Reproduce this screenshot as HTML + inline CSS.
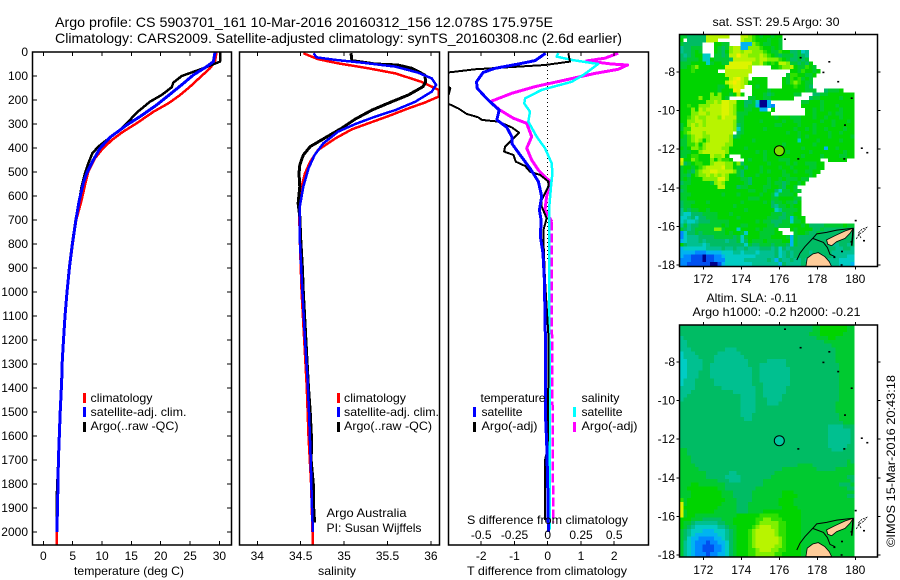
<!DOCTYPE html>
<html>
<head>
<meta charset="utf-8">
<title>Argo profile chart</title>
<style>
html,body{margin:0;padding:0;background:#fff;}
svg{display:block;}
text{font-family:"Liberation Sans",sans-serif;font-size:12px;fill:#000;}
.frame{fill:none;stroke:#000;stroke-width:1.5;}
</style>
</head>
<body>
<svg id="chart" xmlns="http://www.w3.org/2000/svg" width="900" height="580" viewBox="0 0 900 580">
<defs>
<clipPath id="clip-temp"><rect x="32.5" y="52" width="199" height="493"/></clipPath>
<clipPath id="clip-sal"><rect x="239.5" y="52" width="200" height="493"/></clipPath>
<clipPath id="clip-diff"><rect x="448.5" y="52" width="200" height="493"/></clipPath>
<clipPath id="clip-map1"><rect x="679.5" y="34.5" width="198" height="232"/></clipPath>
<clipPath id="clip-map2"><rect x="679.5" y="325" width="198" height="232"/></clipPath>
</defs>
<text x="55" y="27" font-size="14" style="font-size:14px" textLength="498" lengthAdjust="spacingAndGlyphs">Argo profile: CS 5903701_161 10-Mar-2016 20160312_156 12.078S 175.975E</text>
<text x="55" y="43" style="font-size:14px" textLength="567" lengthAdjust="spacingAndGlyphs">Climatology: CARS2009. Satellite-adjusted climatology: synTS_20160308.nc (2.6d earlier)</text>

<g id="map1-cells" clip-path="url(#clip-map1)" shape-rendering="crispEdges"></g>
<g id="map2-cells" clip-path="url(#clip-map2)" shape-rendering="crispEdges"></g>
<g id="map1-coast" clip-path="url(#clip-map1)"></g>
<g id="map2-coast" clip-path="url(#clip-map2)"></g>

<g id="temp-lines" clip-path="url(#clip-temp)" shape-rendering="crispEdges"></g>
<g id="sal-lines" clip-path="url(#clip-sal)" shape-rendering="crispEdges"></g>
<g id="diff-lines" clip-path="url(#clip-diff)" shape-rendering="crispEdges"></g>

<rect class="frame" x="32.5" y="52" width="199" height="493"/>
<rect class="frame" x="239.5" y="52" width="200" height="493"/>
<rect class="frame" x="448.5" y="52" width="200" height="493"/>
<rect class="frame" x="679.5" y="34.5" width="198" height="232"/>
<rect class="frame" x="679.5" y="325" width="198" height="232"/>

<g id="axes" shape-rendering="crispEdges"></g>

<text x="74" y="575" textLength="110" lengthAdjust="spacingAndGlyphs">temperature (deg C)</text>
<text x="318" y="575" textLength="38" lengthAdjust="spacingAndGlyphs">salinity</text>
<text x="467" y="575" textLength="160" lengthAdjust="spacingAndGlyphs">T difference from climatology</text>
<text x="467" y="524" textLength="161" lengthAdjust="spacingAndGlyphs">S difference from climatology</text>

<g shape-rendering="crispEdges">
<rect x="83" y="393" width="3" height="10" fill="#ff0000"/>
<rect x="83" y="407" width="3" height="10" fill="#0000ff"/>
<rect x="83" y="422" width="3" height="10" fill="#000"/>
</g>
<text x="90.5" y="402" textLength="62" lengthAdjust="spacingAndGlyphs">climatology</text>
<text x="90.5" y="416" textLength="96" lengthAdjust="spacingAndGlyphs">satellite-adj. clim.</text>
<text x="90.5" y="430" textLength="88" lengthAdjust="spacingAndGlyphs">Argo(..raw -QC)</text>

<g shape-rendering="crispEdges">
<rect x="337" y="393" width="3" height="10" fill="#ff0000"/>
<rect x="337" y="407" width="3" height="10" fill="#0000ff"/>
<rect x="337" y="422" width="3" height="10" fill="#000"/>
</g>
<text x="344" y="402" textLength="62" lengthAdjust="spacingAndGlyphs">climatology</text>
<text x="344" y="416" textLength="95" lengthAdjust="spacingAndGlyphs">satellite-adj. clim.</text>
<text x="344" y="430" textLength="88" lengthAdjust="spacingAndGlyphs">Argo(..raw -QC)</text>
<text x="326.5" y="517" textLength="80" lengthAdjust="spacingAndGlyphs">Argo Australia</text>
<text x="326.5" y="532" textLength="95" lengthAdjust="spacingAndGlyphs">PI: Susan Wijffels</text>

<g shape-rendering="crispEdges">
<rect x="473" y="407" width="3" height="10" fill="#0000ff"/>
<rect x="473" y="422" width="3" height="10" fill="#000"/>
<rect x="573" y="407" width="3" height="10" fill="#00ffff"/>
<rect x="573" y="422" width="3" height="10" fill="#ff00ff"/>
</g>
<text x="480.5" y="402" textLength="65" lengthAdjust="spacingAndGlyphs">temperature</text>
<text x="481.5" y="416" textLength="41" lengthAdjust="spacingAndGlyphs">satellite</text>
<text x="481.5" y="430" textLength="56" lengthAdjust="spacingAndGlyphs">Argo(-adj)</text>
<text x="581.5" y="402" textLength="38" lengthAdjust="spacingAndGlyphs">salinity</text>
<text x="581.5" y="416" textLength="41" lengthAdjust="spacingAndGlyphs">satellite</text>
<text x="581.5" y="430" textLength="56" lengthAdjust="spacingAndGlyphs">Argo(-adj)</text>

<text x="712.5" y="26" textLength="127" lengthAdjust="spacingAndGlyphs">sat. SST: 29.5 Argo: 30</text>
<text x="706.5" y="302" textLength="91" lengthAdjust="spacingAndGlyphs">Altim. SLA: -0.11</text>
<text x="692.5" y="316" textLength="168" lengthAdjust="spacingAndGlyphs">Argo h1000: -0.2 h2000: -0.21</text>
<text transform="translate(895,547) rotate(-90)" x="0" y="0" textLength="172" lengthAdjust="spacingAndGlyphs">©IMOS 15-Mar-2016 20:43:18</text>
</svg>

<script>
// ---- Axis tick labels ----
const depthTicks=[0,100,200,300,400,500,600,700,800,900,1000,1100,1200,1300,1400,1500,1600,1700,1800,1900,2000];
const tempTicks=[0,5,10,15,20,25,30];
const salTicks=[34,34.5,35,35.5,36];
const tDiffTicks=[-2,-1,0,1,2];
const sDiffTicks=[-0.5,-0.25,0,0.25,0.5];
const lonTicks=[172,174,176,178,180];
const latTicks=[-8,-10,-12,-14,-16,-18];

// ---- Temperature panel ----
const tempClimDepth=[1,40,68,106,144,179,214,249,297,332,367,408,443,499,554,617,700,800,900,1000,1100,1200,1300,1370,1500,1700,1900,2000,2054];
const tempClimValues=[29.5,29.25,28.4,26.7,25,23.3,21.3,18.75,15.9,13.6,11.65,9.95,8.8,7.67,7.1,6.53,5.6,5.0,4.48,4.06,3.72,3.46,3.22,3.13,2.85,2.56,2.39,2.28,2.26];
const tempSatDepth=[1,40,61,96,131,165,221,269,304,356,401,450,505,547,617,700,800,900,1000,1100,1200,1300,1370,1500,1700,1900,2000];
const tempSatValues=[29.25,28.97,27.83,25.56,23.86,22.15,19.3,16.47,14.2,11.36,9.66,8.52,7.39,6.82,6.14,5.55,4.95,4.45,4.03,3.7,3.44,3.2,3.13,2.88,2.58,2.42,2.3];
const tempArgoDepth=[1,40,68,100,128,147,179,207,253,283,325,356,394,422,464,505,561,617,700,800,900,1000,1100,1200,1300,1400,1500,1700,1850,1960];
const tempArgoValues=[30.1,30.1,27.26,23.57,22.15,21.87,20.16,18.18,15.9,14.77,13.07,11.36,9.38,8.35,7.67,7.1,6.53,6.14,5.5,4.9,4.4,4.0,3.68,3.42,3.2,3.03,2.85,2.55,2.3,2.3];

// ---- Salinity panel ----
const salClimDepth=[5,30,47,68,89,124,158,186,211,235,267,297,322,360,408,457,506,561,631,780,1000,1200,1400,1600,1800,2054];
const salClimValues=[34.53,34.70,34.93,35.28,35.59,35.89,36.09,36.09,35.93,35.74,35.51,35.28,35.09,34.9,34.70,34.61,34.55,34.51,34.48,34.49,34.51,34.54,34.57,34.59,34.62,34.64];
const salSatDepth=[5,22,33,44,61,86,110,137,165,207,242,269,300,332,381,429,485,561,644,780,1000,1200,1367,1500,1700,1900,2000];
const salSatValues=[34.65,34.68,34.9,35.2,35.59,35.85,36.01,36.06,36.01,35.82,35.59,35.36,35.13,34.93,34.76,34.66,34.59,34.53,34.49,34.49,34.52,34.55,34.58,34.596,34.615,34.63,34.64];
const salArgoDepth=[5,36,50,54,68,96,124,144,179,210,242,279,318,362,394,429,471,506,561,631,686,780,900,1000,1200,1400,1500,1620,1700,1800,1900,1960];
const salArgoValues=[35.08,35.09,35.36,35.62,35.78,35.93,35.94,35.91,35.74,35.53,35.32,35.13,34.97,34.76,34.61,34.53,34.49,34.48,34.49,34.47,34.49,34.5,34.52,34.53,34.56,34.59,34.61,34.625,34.62,34.645,34.65,34.66];

// ---- Difference panel ----
const tSatDepth=[5,36,50,68,85,124,151,186,214,242,283,314,353,381,429,485,540,603,658,700,769,839,950,1200,1533,1630,1800,2000];
const tSatValues=[-0.06,-0.38,-0.88,-1.58,-1.94,-2.14,-2.12,-1.89,-1.68,-1.46,-1.53,-1.23,-1.08,-1.08,-0.83,-0.53,-0.28,-0.18,-0.25,-0.2,-0.22,-0.14,-0.1,-0.07,-0.06,-0.03,0,0.02];
const tArgoDepth=[5,40,54,72,85,110,135,150,175,195,215,235,258,272,283,290,314,336,360,394,415,429,457,475,499,512,540,561,617,644,693,742,780,950,1200,1650,1700,1950];
const tArgoValues=[0.62,0.67,-0.08,-2.19,-2.97,-3.3,-3.1,-2.93,-2.97,-3.2,-3,-2.69,-2.44,-2.09,-1.98,-1.49,-1.08,-0.86,-1.03,-1.28,-1.31,-1.03,-0.96,-0.68,-0.53,-0.23,0.02,0.02,-0.18,-0.18,-0.03,-0.13,-0.13,-0.08,0.03,0,-0.08,-0.08];
const sSatDepth=[5,19,33,50,96,124,158,193,214,249,290,353,401,464,506,561,658,780,1000,1400,1990];
const sSatValues=[0.08,0.068,0.18,0.38,0.268,0.18,-0.045,-0.17,-0.176,-0.133,-0.146,-0.083,-0.02,0.03,0.035,0.025,0.01,0.01,0.012,0.015,0.017];
const sArgoDepth=[5,26,37,50,54,72,89,120,144,172,207,242,276,297,353,401,450,492,540,603,658,706];
const sArgoValues=[0.53,0.43,0.293,0.48,0.60,0.53,0.356,0.105,-0.095,-0.27,-0.434,-0.359,-0.259,-0.158,-0.12,-0.158,-0.12,-0.07,0.017,-0.008,-0.02,0.03];
const sArgoDeepDepth=[706,1000,1400,1800,1960];
const sArgoDeepValues=[0.03,0.03,0.035,0.04,0.04];

// ---- Map heatmaps: each character is one 0.2 degree cell, '.' = no data ----
const mapColours={n:"#00008c",B:"#0050f0",b:"#0088ff",c:"#00b4f0",d:"#00ccc4",e:"#00c090",f:"#00bc64",g:"#00ca30",h:"#00d400",i:"#30e000",j:"#80f000",k:"#b8f400",l:"#dcf400",m:"#f8ec00"};
const sstRows=[
"ggfffffkkkkkk...kkjihghhghh",
"h.fffffkkk......kjjihhhghhg",
"gfffff...hhgg...cccjihgghhg",
"effggg...hgfgjkkccjjjihhghg",
"effghg...hgfhjkkjkkjjjihggihhffgde",
"fefghhdd.ggfgkkmkkjjjkjihgfgggfgfe",
"ffggghddhggggfkkkkkkjkkjjjihgffgfg",
"ggghhhhdghhgglllllljjkihihkkjggfgfh",
"gghijhhhhhhhllllllk.....hhijjkhggihg",
"hhhihhhhhh..kkkkkkk..........hhgihhgh",
"hhhhhhhhhhhhkkkkkk..........giihhggh",
"hhhhhhhhhhhhhklmkj.hhhh....hgihighg",
"hhhhhhhhhhhhklmlkjhhhhh....hgijihgg",
"hhhhhhhhhhgghkllk..hghh....hhhihhgf",
"hhhhhhhhhhghhhml...hhhhghhhhhhhhhggg..fgggh",
"hhhhhhhhjhjhhghkh..hhhgfghhhhhgg...ffgghhhhhhhhhhh",
"hhhhhjhhjjjhg.....gghhgghhhhhh....fgghhhhhghhhgh",
"hhhhhhhjjkjllkkhhffgdnnc........gghhhghhhhhhhh",
"hhihhjjjkkkllkjhhfggcnncb.......hhhhhghhhghhhh",
"hhhjhkjkkkkllkjhhgghhcc.h........hhghghhhhghhhh",
"hhhjjkkjkkkllkjggghhhhhh.........hhghhhghgghhhh",
"hhijkjjkkkjlkkkgghhhhhhhhghhhggghhhghhghhhghhh",
"hhjjkkjkkkkkkkjgghhhhghhhhhghhgghhhhhghhghhhgh",
"ghjkjkjkkkkkkkjfghhhhhhhhgghhhhghhhghhhhghhhhh",
"giikkkkkkkkkkkjdghhhhhghhhhhhhghhghghhghhhhghh",
"hijkkkjkkkkkkk.fghhhhhhhhhhhghhghhhghhhghhghhh",
"hgijkkjjkkkkkjfghhhhhhhhhhhhhhhghghhhhhghhhhhg",
"ggijkjhjkkkkkjhhhhhghhhhhhhhhhhdhhhhghhhhhghhh",
"ggiijhjkkkkkjjhhhhhhhhhhhhhghhhhhhhghhhhhhhhhh",
"hghjjijkkkkjjhhhhghhhhhhhhhhhhhhghhhhhchhghhhh",
"ggghhjkkkkkkjhhhhhhhghghhhhhghhhhhghhhhhhhhghh",
"gghiihhhkjjkh...hhhhhhghhhhhhhhhghhhhghhhhgghh",
"lhhjihhhjhjiih...hghhhghhhggghhhhhhhh..hhhhh",
"kfghiihhjkkkjjhjfhhhhhhghhhhghghhggghh",
"ghhghijkkkkljjhghfhhhghhhhghhghhhhgghh",
"ghgfijkkllkkkkjgfhhhhghghhhghhghhgghh",
"ggfhijjkjkjkjhhgfhhhghhhhhhgghhhhhgh",
"ghghhhjjjjlljhhhggfhhhhghhghggghgg",
"fgghhhhhgjkjhhhhhgfhhhhghggfghhgh",
"gghhhhhhhhkkhhhfgghhhhgghhgfhhg",
"fghhhhhhhhhhhhhhhhgghhghhfdgghgg",
"ggghhhhhhhhghhhghhhhhghhgdggggh",
"gghhhhhhhhhhhhhhhhggghhhgghhhhgg",
"fggghhhghhhhhhhhghhhhhghfgghggfh",
"fgghhhhhhhhhhhghhhhhhhhhfegghghh",
"egfgghhghhhhhhhhhghhhhhhhdeggggh",
"eddfffgggghhhghhhhhhhhhhgggfgghh",
"ddefdffggghhhhhghhhhhhhgggffgcghh",
"deddefffggggghhhhhhhghggfffggdggh",
"egeffgggggghghhhgghhhhhggfggghhhghffffggggghgg",
"gfefgggggjjghhhdhhhhghgggh...hghhhhffgfffffffff",
"bdffgfgggggghghhgdhhhgggghh...ghhgffgfffffffff",
"bdeeeffffgggggfgdghhhggghhhhgcgfffffffffffffff",
"cdeeefefffffeffgdfhggghgggghhcgfffffffffffffff",
"hfeeeedefffffffffdgffgggfgggfcgfffffffffeeffef",
"cddddddeeeefeefeefeeefffefdfeffffffffffffeeffe",
"ccccbbbccccdddeedeeedeeeefdefeffffefffffeeeeee",
"cbbBBBnBBbbcddddddddeeeeefdefefffffffeffeeeedd",
"bbbBBBnBBbbbdddddeeeeeefecfeefeefefffffeeedddd",
"bbBBBBBBnnBcdddddddeeeeeeecfeeeeffffeeeeeedddc"
];
const slaRows=[
"fffffffffffffffffffffffffffffffffffgghhhhhhhgg",
"fffffffffffffffffffffffffffffffffffgghhhhhhhgg",
"ffffffffffffffffffffffffffffffffffggghhhhhhggg",
"efffffffffffffffffffffffffffffffffffggghhggggg",
"eeffffffffffffffffffffffffffffffffffffgggggggg",
"eeffffffffffffffffffffffffffffffffffffffgggggg",
"eeefffffffffeeeffffffffffffffffffffffffffggggg",
"deeeffffffeeeeeefffffffffffffffffffffffffggggg",
"deeeeffffeeeeeeeeffffffffffffffffffffffffggggg",
"ddeeeefffeeeeeeeeefffffeeeeefffffffffffffggggg",
"ddeeeeffeeeeeeeeeefffeeeeeeeffffffffffffffgggg",
"ddeeeeffeeeeeeeeeeeffeeeeeeeefffffffffffffgggg",
"ddeeefffeeeeeeeeeeeffeeeeeeeefffffffffffffgggg",
"ddeeefffeeeeeeeeeeeffeeeeeeeefffffffffffffgggg",
"deeefffffeeeeeeeeeeffeeeeeeeefffffffffffffgggg",
"deeefffffeeeeeeeeeefffeeeeeeefffffffffffffgggg",
"eeeefffffffeeeeeeeeeffeeeeeeffffffffffffffgggg",
"eeefffffffffffeeeeeeffeeeeeeffffffffffffffgggg",
"eeffffffffffffffeeeeffeeeeefffffffffffffffgggg",
"efffffffffffffffeeeefffeeeefffffffffffffffgggg",
"ffffffffffffffffeeeefffeeefffffffffffffffggggg",
"ffffffffffffffffeeeefffffffffffffffffffffggggg",
"ffffffffffffffffeeeefffffffffffffffffffffggggg",
"ffffffffffffffffeeefffffffffffffffffffffffgggg",
"fffffffffffffffffeefffffffffffffffffffffffgggg",
"fffffffffffffffffffffffffffffffffffffffffffggg",
"fffffffffffffffffffffffffffffffffffffffeeeefff",
"fffffffffffffffffffffffffffffffffffffffeeeeeef",
"fffffffffffffffffffffffffffffffffffffffeeeeeef",
"fffffffffffffffffffffffffffffffffffffffeeeeeef",
"fffffffffffffffffffffffffffffffffffffffeeeeeef",
"fffffffffffffffffffffffffffffffffffffffeeeeeff",
"ggffffffffffffffffffffffffffffffffffffffeeefff",
"ggffffffffffffffffffffffffffffffffffffffffffff",
"gggfffffffffffffffffffffffffffffffffffffffffff",
"gggfffffffffffffffffffffffffffffffffffffffffgf",
"ggggfffffffffffffffffffffffffffggggfffffffffgg",
"gggggffffffffffffffffffffffgggggggggfffffggggg",
"gggggggffffffeeffffffffffggggggggggggggggggggg",
"gggggggfffffeeeeffffffffggggggggggggggggggggff",
"ggggggggggfffeeeffffffgggggggggggggggggggggggf",
"ggghhgggggggffffffffffggggggggggggggggggggfffg",
"gghhhhhhhhggffffffffggggggggggggggggggggggggff",
"ggghhhhhhhhgggfffffgggggggghhhgggggggggggggggg",
"ggghhhhhhhhgggfffffgggggggghhhhgggggggggggggff",
"ighhhhhhhhhhgggffffggggggghhhhgggggggggggggggg",
"lghhhhhhhhhggggfffgggggggghhhhgggggggggggggggg",
"lhhhhhhhhhgggggfffggggggggghhhhggggggggggggggg",
"lghhhhhhhggggggfffgggghhhhhhhhhhgggggggggggggg",
"lghhggggggggggghhhhhhiiiiihhhhhhgggggggggggggg",
"hhhgggfffffggghhhhhhiijjiiihhhhhgggggggggggggg",
"hggfeeeeeeffgghhhhhhijjjjjiihhhhgggggggggggggg",
"hgfeddddddeefgghhhhijkkkjjiihhhhgggggggggggggg",
"gfedddcccdddefghhhijkkkkkjiihhhhgggggggggggggg",
"gfedccccccddefghhhijkkkkkjiihhhhgggggggggggggg",
"gfdccbbbbccdefghhhijkkkkkkjihhhhgggggggggggggg",
"gedcbbbBbbccdfghhhijkkkkkkjihhhhgggggggggggggg",
"gedcbbBBBbbcdfghhhijkkkkkjjihhhhgggggggggggggg",
"gedcbbBBBbbcdfghhhiijkkkjjiihhhhgggggggggggggg",
"gedcbbbBbbccdfghhhiijjjjjiihhhhhgggggggggggggg"
];

// ---- Map markers and geography (lon/lat) ----
const profileLon=176.0;
const profileLat=-12.08;
const vitiLevu=[[177.4,-18.09],[177.47,-17.65],[177.76,-17.43],[178.05,-17.36],[178.4,-17.57],[178.63,-17.83],[178.76,-18.09]];
const vanuaLevu=[[178.49,-16.7],[178.93,-16.48],[179.46,-16.24],[179.89,-16.1],[179.72,-16.36],[179.46,-16.62],[179.02,-16.79],[178.76,-17.0],[178.55,-16.93]];
const coastLineA=[[176.92,-17.74],[177.09,-17.39],[177.35,-17.05],[177.76,-16.62],[177.97,-16.39],[178.49,-16.31],[179.02,-16.19],[179.89,-16.1]];
const coastLineB=[[177.76,-16.62],[178.32,-16.83],[178.53,-17.1],[178.67,-17.45],[178.93,-17.57]];
const coastLineC=[[179.89,-16.1],[179.86,-16.53],[179.81,-17.0]];
const reefLine=[[180.05,-16.65],[180.2,-16.4],[180.45,-16.25],[180.6,-16.05],[180.35,-16.15],[180.15,-16.35],[180.3,-16.6]];
const islandLons=[176.3,177.12,178.63,178.32,179.1,179.81,179.46,180.34,180.63,177.0,179.42,180.02,180.46,179.3,179.28,178.9,179.8];
const islandLats=[-6.3,-7.26,-7.47,-8.02,-8.5,-9.36,-10.75,-11.95,-12.18,-12.5,-12.5,-15.7,-16.74,-17.3,-18.0,-17.6,-16.8];

// ---- Axis functions ----
function depthY(d){return 52+0.24*d;}
function tempX(t){return 43.3+5.87*t;}
function salX(s){return 257.3+86.8*(s-34);}
function tDiffX(t){return 547.7+33.25*t;}
function sDiffX(s){return 547.7+133*s;}
function lonX(lon){return 703.3+19*(lon-172);}
function latY1(lat){return 72+19.3*(-8-lat);}
function latY2(lat){return 362+19.3*(-8-lat);}

const SVGNS="http://www.w3.org/2000/svg";
function make(tag,parent,attrs){
  const el=document.createElementNS(SVGNS,tag);
  for(const k in attrs){el.setAttribute(k,attrs[k]);}
  parent.appendChild(el);
  return el;
}
function seriesPoints(depths,values,xf){
  return depths.map(function(d,i){return xf(values[i]).toFixed(1)+","+depthY(d).toFixed(1);}).join(" ");
}
function drawSeries(parent,depths,values,xf,colour,width,dash){
  const attrs={points:seriesPoints(depths,values,xf),fill:"none",stroke:colour,"stroke-width":width,"stroke-linejoin":"round"};
  if(dash){attrs["stroke-dasharray"]=dash;}
  return make("polyline",parent,attrs);
}

// ---- Draw profile series ----
const tempG=document.getElementById("temp-lines");
let line;
line=drawSeries(tempG,tempClimDepth,tempClimValues,tempX,"#ff0000",2.5);


line=drawSeries(tempG,tempArgoDepth,tempArgoValues,tempX,"#000000",2.5);


line=drawSeries(tempG,tempSatDepth,tempSatValues,tempX,"#0000ff",3);



const salG=document.getElementById("sal-lines");
line=drawSeries(salG,salClimDepth,salClimValues,salX,"#ff0000",2.5);


line=drawSeries(salG,salArgoDepth,salArgoValues,salX,"#000000",3);


line=drawSeries(salG,salSatDepth,salSatValues,salX,"#0000ff",2.5);



const diffG=document.getElementById("diff-lines");
for(let yy=54;yy<260;yy+=4){
  const dot=make("rect",diffG,{x:547,y:yy,width:1,height:1,fill:"#000"});
  
  
}
line=drawSeries(diffG,sArgoDeepDepth,sArgoDeepValues,sDiffX,"#ff00ff",2.5,"9 3");


line=drawSeries(diffG,sArgoDepth,sArgoValues,sDiffX,"#ff00ff",3);


line=drawSeries(diffG,sSatDepth,sSatValues,sDiffX,"#00ffff",2.5);


line=drawSeries(diffG,tArgoDepth,tArgoValues,tDiffX,"#000000",2);


line=drawSeries(diffG,tSatDepth,tSatValues,tDiffX,"#0000ff",3);



// ---- Draw heatmaps ----
function drawCells(parent,rows,latY){
  const cellLon=0.2, cellLat=0.2, lonStart=170.75, latStart=-6.05;
  rows.forEach(function(row,r){
    for(let c=0;c<46;c++){
      const ch=row.charAt(c);
      if(!ch||ch==="."){continue;}
      const cell=make("rect",parent,{
        x:lonX(lonStart+c*cellLon).toFixed(1),
        y:latY(latStart-r*cellLat).toFixed(1),
        width:4.2,height:4.3,fill:mapColours[ch]});
      
      
    }
  });
}
drawCells(document.getElementById("map1-cells"),sstRows,latY1);
drawCells(document.getElementById("map2-cells"),slaRows,latY2);

// ---- Draw coast and markers ----
function geoPoints(list,latY){
  return list.map(function(p){return lonX(p[0]).toFixed(1)+","+latY(p[1]).toFixed(1);}).join(" ");
}
function drawGeo(parent,latY,markerFill){
  let el;
  el=make("polygon",parent,{points:geoPoints(vitiLevu,latY),fill:"#ffcc99",stroke:"#000","stroke-width":0.8});
  
  
  el=make("polygon",parent,{points:geoPoints(vanuaLevu,latY),fill:"#ffcc99",stroke:"#000","stroke-width":0.8});
  
  
  el=make("polyline",parent,{points:geoPoints(coastLineA,latY),fill:"none",stroke:"#000","stroke-width":1});
  
  
  el=make("polyline",parent,{points:geoPoints(coastLineB,latY),fill:"none",stroke:"#000","stroke-width":1});
  
  
  el=make("polyline",parent,{points:geoPoints(coastLineC,latY),fill:"none",stroke:"#000","stroke-width":1.6});
  
  
  el=make("polyline",parent,{points:geoPoints(reefLine,latY),fill:"none",stroke:"#000","stroke-width":0.8,"stroke-dasharray":"2 1"});
  
  
  islandLons.forEach(function(lon,i){
    const isl=make("rect",parent,{x:(lonX(lon)-1).toFixed(1),y:(latY(islandLats[i])-0.8).toFixed(1),width:2,height:1.6,fill:"#000"});
    
    
  });
  el=make("circle",parent,{cx:lonX(profileLon).toFixed(1),cy:latY(profileLat).toFixed(1),r:5,fill:markerFill,stroke:"#000","stroke-width":1});
  
  
}
drawGeo(document.getElementById("map1-coast"),latY1,"#7ce000");
drawGeo(document.getElementById("map2-coast"),latY2,"#00c8a0");

// ---- Draw axes ----
const axesG=document.getElementById("axes");
function tick(x1,y1,x2,y2){
  return make("line",axesG,{x1:x1.toFixed(1),y1:y1.toFixed(1),x2:x2.toFixed(1),y2:y2.toFixed(1),stroke:"#000","stroke-width":1});
}
function label(x,y,str,anchor){
  const t=make("text",axesG,{x:x.toFixed(1),y:y.toFixed(1),"text-anchor":anchor});
  t.textContent=str;
  return t;
}
depthTicks.forEach(function(d){
  let t=tick(32.5,depthY(d),37,depthY(d));
  
  
  t=tick(231.5,depthY(d),227,depthY(d));
  
  
  const l=label(28,depthY(d)+4,String(d),"end");
  
  
});
tempTicks.forEach(function(v){
  let t=tick(tempX(v),52,tempX(v),56);
  
  
  t=tick(tempX(v),545,tempX(v),541);
  
  
  const l=label(tempX(v),560,String(v),"middle");
  
  
});
salTicks.forEach(function(v){
  let t=tick(salX(v),52,salX(v),56);
  
  
  t=tick(salX(v),545,salX(v),541);
  
  
  const l=label(salX(v),560,String(v),"middle");
  
  
});
tDiffTicks.forEach(function(v){
  let t=tick(tDiffX(v),52,tDiffX(v),56);
  
  
  t=tick(tDiffX(v),545,tDiffX(v),541);
  
  
  const l=label(tDiffX(v),560,String(v),"middle");
  
  
});
sDiffTicks.forEach(function(v){
  const l=label(sDiffX(v),539,String(v),"middle");
  
  
});
[[34.5,266.5,latY1,283],[325,557,latY2,574]].forEach(function(m){
  lonTicks.forEach(function(lon){
    let t=tick(lonX(lon),m[0],lonX(lon),m[0]-3);
    
    
    t=tick(lonX(lon),m[1],lonX(lon),m[1]+3);
    
    
    const l=label(lonX(lon),m[3],String(lon),"middle");
    
    
  });
  latTicks.forEach(function(lat){
    let t=tick(679.5,m[2](lat),676.5,m[2](lat));
    
    
    t=tick(877.5,m[2](lat),880.5,m[2](lat));
    
    
    const l=label(675,m[2](lat)+4,String(lat),"end");
    
    
  });
});
</script>
</body>
</html>
